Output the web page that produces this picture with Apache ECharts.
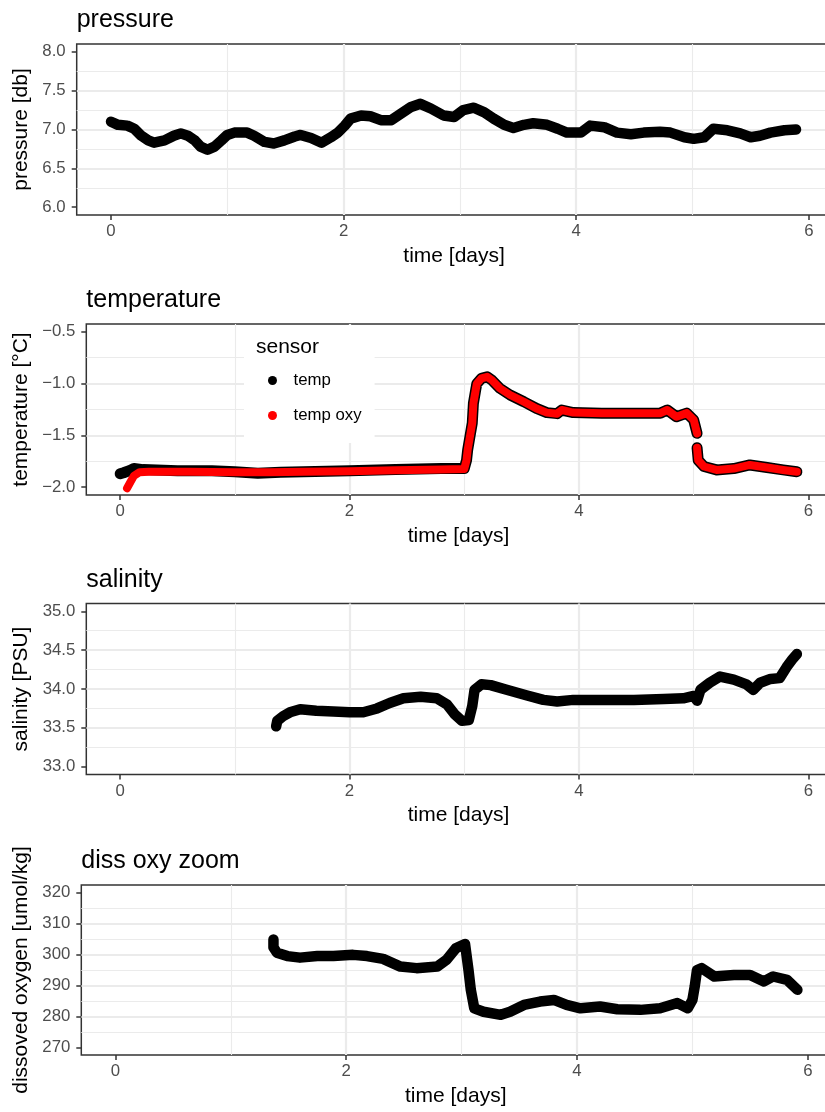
<!DOCTYPE html>
<html><head><meta charset="utf-8">
<script src="https://cdn.jsdelivr.net/npm/echarts@6/dist/echarts.min.js"></script>
<style>html,body{margin:0;padding:0;background:#fff}#c{width:825px;height:1112px}</style>
</head><body><div id="c"></div>
<script>
// ---- tick labels ----
const xTicks = [0, 2, 4, 6];
const pressureTicks = [6.0, 6.5, 7.0, 7.5, 8.0];
const tempTicks = [-2.0, -1.5, -1.0, -0.5];
const salTicks = [33.0, 33.5, 34.0, 34.5, 35.0];
const oxyTicks = [270, 280, 290, 300, 310, 320];

// ---- pressure ----
const pressureDays = [0.00,0.06,0.14,0.20,0.26,0.32,0.37,0.46,0.54,0.60,0.66,0.72,0.77,0.83,0.89,0.95,1.00,1.06,1.17,1.23,1.32,1.40,1.49,1.58,1.63,1.72,1.81,1.89,1.95,2.01,2.06,2.15,2.23,2.32,2.41,2.49,2.58,2.66,2.75,2.86,2.95,3.03,3.12,3.21,3.29,3.38,3.46,3.55,3.63,3.75,3.84,3.92,4.04,4.12,4.24,4.35,4.47,4.58,4.72,4.81,4.93,5.01,5.10,5.18,5.30,5.41,5.50,5.58,5.67,5.79,5.89];
const pressureVals = [7.10,7.06,7.05,7.01,6.92,6.86,6.83,6.86,6.92,6.95,6.92,6.86,6.78,6.74,6.78,6.86,6.93,6.96,6.96,6.92,6.84,6.82,6.86,6.91,6.93,6.89,6.83,6.90,6.96,7.05,7.14,7.18,7.17,7.12,7.12,7.20,7.29,7.33,7.27,7.18,7.16,7.25,7.28,7.22,7.14,7.06,7.02,7.06,7.08,7.06,7.01,6.96,6.96,7.05,7.03,6.96,6.94,6.96,6.97,6.96,6.90,6.88,6.90,7.01,6.99,6.95,6.90,6.92,6.96,6.99,7.00];

// ---- temperature (sensor: temp) ----
const tempDays = [0.00,0.03,0.08,0.12,0.20,0.50,0.80,1.00,1.20,1.40,1.60,2.00,2.40,2.80,3.00,3.02,3.03,3.05,3.07,3.08,3.10,3.11,3.15,3.20,3.24,3.31,3.40,3.52,3.63,3.72,3.81,3.85,3.95,4.20,4.50,4.71,4.77,4.85,4.94,5.00,5.03,5.03,5.03,5.04,5.09,5.20,5.35,5.49,5.64,5.78,5.90];
const tempVals = [-1.87,-1.86,-1.84,-1.82,-1.83,-1.84,-1.84,-1.85,-1.865,-1.855,-1.85,-1.84,-1.83,-1.82,-1.82,-1.74,-1.64,-1.51,-1.38,-1.19,-1.06,-1.00,-0.95,-0.935,-0.965,-1.045,-1.11,-1.175,-1.24,-1.28,-1.29,-1.255,-1.28,-1.285,-1.285,-1.285,-1.255,-1.32,-1.285,-1.35,-1.48,null,-1.62,-1.74,-1.80,-1.833,-1.82,-1.785,-1.81,-1.833,-1.85];

// ---- temperature (sensor: temp oxy) ----
const tempOxyDays = [0.06,0.09,0.12,0.17,0.25,0.60,1.00,1.30,1.60,2.00,2.40,2.80,3.00,3.02,3.03,3.05,3.07,3.08,3.10,3.11,3.15,3.20,3.24,3.31,3.40,3.52,3.63,3.72,3.81,3.85,3.95,4.20,4.50,4.71,4.77,4.85,4.94,5.00,5.03,5.03,5.03,5.04,5.09,5.20,5.35,5.49,5.64,5.78,5.90];
const tempOxyVals = [-2.01,-1.95,-1.89,-1.855,-1.85,-1.85,-1.855,-1.855,-1.85,-1.845,-1.835,-1.83,-1.823,-1.74,-1.64,-1.51,-1.38,-1.19,-1.06,-1.00,-0.95,-0.935,-0.965,-1.045,-1.11,-1.175,-1.24,-1.28,-1.29,-1.255,-1.28,-1.285,-1.285,-1.285,-1.255,-1.32,-1.285,-1.35,-1.48,null,-1.62,-1.74,-1.80,-1.833,-1.82,-1.785,-1.81,-1.833,-1.85];

// ---- salinity ----
const salDays = [1.36,1.37,1.42,1.48,1.57,1.71,1.86,2.00,2.12,2.24,2.35,2.47,2.62,2.76,2.85,2.92,2.98,3.04,3.07,3.09,3.15,3.23,3.37,3.54,3.69,3.81,3.95,4.18,4.48,4.74,4.91,5.00,5.03,5.06,5.14,5.23,5.35,5.46,5.52,5.58,5.67,5.75,5.81,5.86,5.90];
const salVals = [33.52,33.59,33.65,33.70,33.74,33.72,33.71,33.70,33.70,33.75,33.82,33.88,33.90,33.88,33.80,33.67,33.59,33.60,33.78,33.99,34.06,34.05,33.99,33.92,33.86,33.84,33.86,33.86,33.86,33.87,33.88,33.91,33.85,33.99,34.08,34.16,34.12,34.06,33.99,34.08,34.13,34.14,34.28,34.38,34.45];

// ---- dissolved oxygen ----
const oxyDays = [1.37,1.37,1.40,1.49,1.60,1.75,1.89,2.06,2.18,2.32,2.47,2.61,2.79,2.87,2.95,3.03,3.06,3.08,3.11,3.19,3.34,3.42,3.54,3.68,3.80,3.91,4.03,4.20,4.35,4.55,4.72,4.87,4.96,5.00,5.02,5.04,5.08,5.19,5.36,5.50,5.62,5.70,5.82,5.91];
const oxyVals = [304.9,302.3,300.6,299.5,299.0,299.5,299.5,299.9,299.5,298.6,296.1,295.6,296.1,298.3,302.0,303.4,295.0,288.6,282.6,281.5,280.5,281.5,283.7,284.8,285.3,283.7,282.6,283.2,282.3,282.1,282.6,284.3,282.6,285.3,289.6,295.0,295.6,292.9,293.4,293.4,291.3,292.9,291.8,288.6];

const FONT = '"Liberation Sans", Arial, sans-serif';
const zip = (xs, ys) => xs.map((x, i) => [x, ys[i]]);
const minus = s => s.replace('-', '\u2212');

const panels = [
  {title:'pressure', left:76.7, top:44, width:754.8, height:171, ymin:5.9, ymax:8.1, split:5, ticks:pressureTicks, yname:'pressure [db]', gap:41, fmt:v=>v.toFixed(1)},
  {title:'temperature', left:86.3, top:324, width:744.4, height:171, ymin:-2.075, ymax:-0.425, split:4, ticks:tempTicks, yname:'temperature [°C]', gap:51.5, fmt:v=>minus(v.toFixed(1))},
  {title:'salinity', left:86.3, top:603.5, width:744.4, height:171, ymin:32.9, ymax:35.1, split:5, ticks:salTicks, yname:'salinity [PSU]', gap:51.5, fmt:v=>v.toFixed(1)},
  {title:'diss oxy zoom', left:81.3, top:885, width:749, height:170, ymin:267.5, ymax:322.5, split:5, ticks:oxyTicks, yname:'dissoved oxygen [umol/kg]', gap:46.5, fmt:v=>String(Math.round(v))}
];

const gridLine = {show:true, showMinLine:false, showMaxLine:false, lineStyle:{color:'#ebebeb', width:2.2}};
const minorLine = {show:true, lineStyle:{color:'#ebebeb', width:1.1}};
const tickStyle = {color:'#333333', width:1.5};

const grids = [], xAxes = [], yAxes = [], titles = [];
panels.forEach((p, i) => {
  grids.push({left:p.left, top:p.top, width:p.width, height:p.height, show:true, borderColor:'#333333', borderWidth:1.5, backgroundColor:'transparent', containLabel:false, outerBoundsMode:'none'});
  titles.push({text:p.title, left:p.left, top:p.top - 36, padding:0, textStyle:{fontSize:25, fontWeight:'normal', color:'#000', fontFamily:FONT}});
  xAxes.push({
    type:'value', gridIndex:i, min:-0.295, max:6.195, splitNumber:3,
    name:'time [days]', nameLocation:'middle', nameGap:30.5,
    nameTextStyle:{fontSize:21, color:'#000', fontFamily:FONT},
    axisLine:{show:false, onZero:false},
    axisTick:{show:true, length:5, lineStyle:tickStyle, customValues:xTicks},
    axisLabel:{customValues:xTicks, margin:8, fontSize:16.8, color:'#4d4d4d', fontFamily:FONT, formatter:v=>String(v)},
    splitLine:gridLine, minorTick:{show:false, splitNumber:2}, minorSplitLine:minorLine
  });
  yAxes.push({
    type:'value', gridIndex:i, min:p.ymin, max:p.ymax, splitNumber:p.split,
    name:p.yname, nameLocation:'middle', nameRotate:90, nameGap:p.gap,
    nameTextStyle:{fontSize:21, color:'#000', fontFamily:FONT},
    axisLine:{show:false, onZero:false},
    axisTick:{show:true, length:5, lineStyle:tickStyle, customValues:p.ticks},
    axisLabel:{customValues:p.ticks, margin:11, fontSize:16.8, color:'#4d4d4d', fontFamily:FONT, formatter:p.fmt},
    splitLine:gridLine, minorTick:{show:false, splitNumber:2}, minorSplitLine:minorLine
  });
});

const lineSeries = (name, xi, data, color, width) => ({
  name, type:'line', xAxisIndex:xi, yAxisIndex:xi, data, symbol:'none', showSymbol:false,
  connectNulls:false, silent:true, animation:false,
  lineStyle:{color, width, cap:'round', join:'round'}, itemStyle:{color},
  emphasis:{disabled:true}
});

const chart = echarts.init(document.getElementById('c'), null, {renderer:'canvas'});
chart.setOption({
  animation:false,
  backgroundColor:'#ffffff',
  title:titles,
  grid:grids,
  xAxis:xAxes,
  yAxis:yAxes,
  legend:{
    left:244, top:325, orient:'vertical', padding:[47,13,19,24], backgroundColor:'#ffffff',
    itemWidth:32, itemHeight:9, itemGap:18, selectedMode:false,
    textStyle:{fontSize:16.8, color:'#000', fontFamily:FONT},
    data:[{name:'temp', icon:'circle'}, {name:'temp oxy', icon:'circle'}]
  },
  graphic:[{type:'text', left:256, top:337, z:100, style:{text:'sensor', fontSize:21, fontFamily:FONT, fill:'#000'}}],
  series:[
    lineSeries('pressure', 0, zip(pressureDays, pressureVals), '#000000', 10.5),
    lineSeries('temp', 1, zip(tempDays, tempVals), '#000000', 11),
    lineSeries('temp oxy', 1, zip(tempOxyDays, tempOxyVals), '#ff0000', 8),
    lineSeries('salinity', 2, zip(salDays, salVals), '#000000', 10.5),
    lineSeries('oxygen', 3, zip(oxyDays, oxyVals), '#000000', 10.5)
  ]
});
</script></body></html>
